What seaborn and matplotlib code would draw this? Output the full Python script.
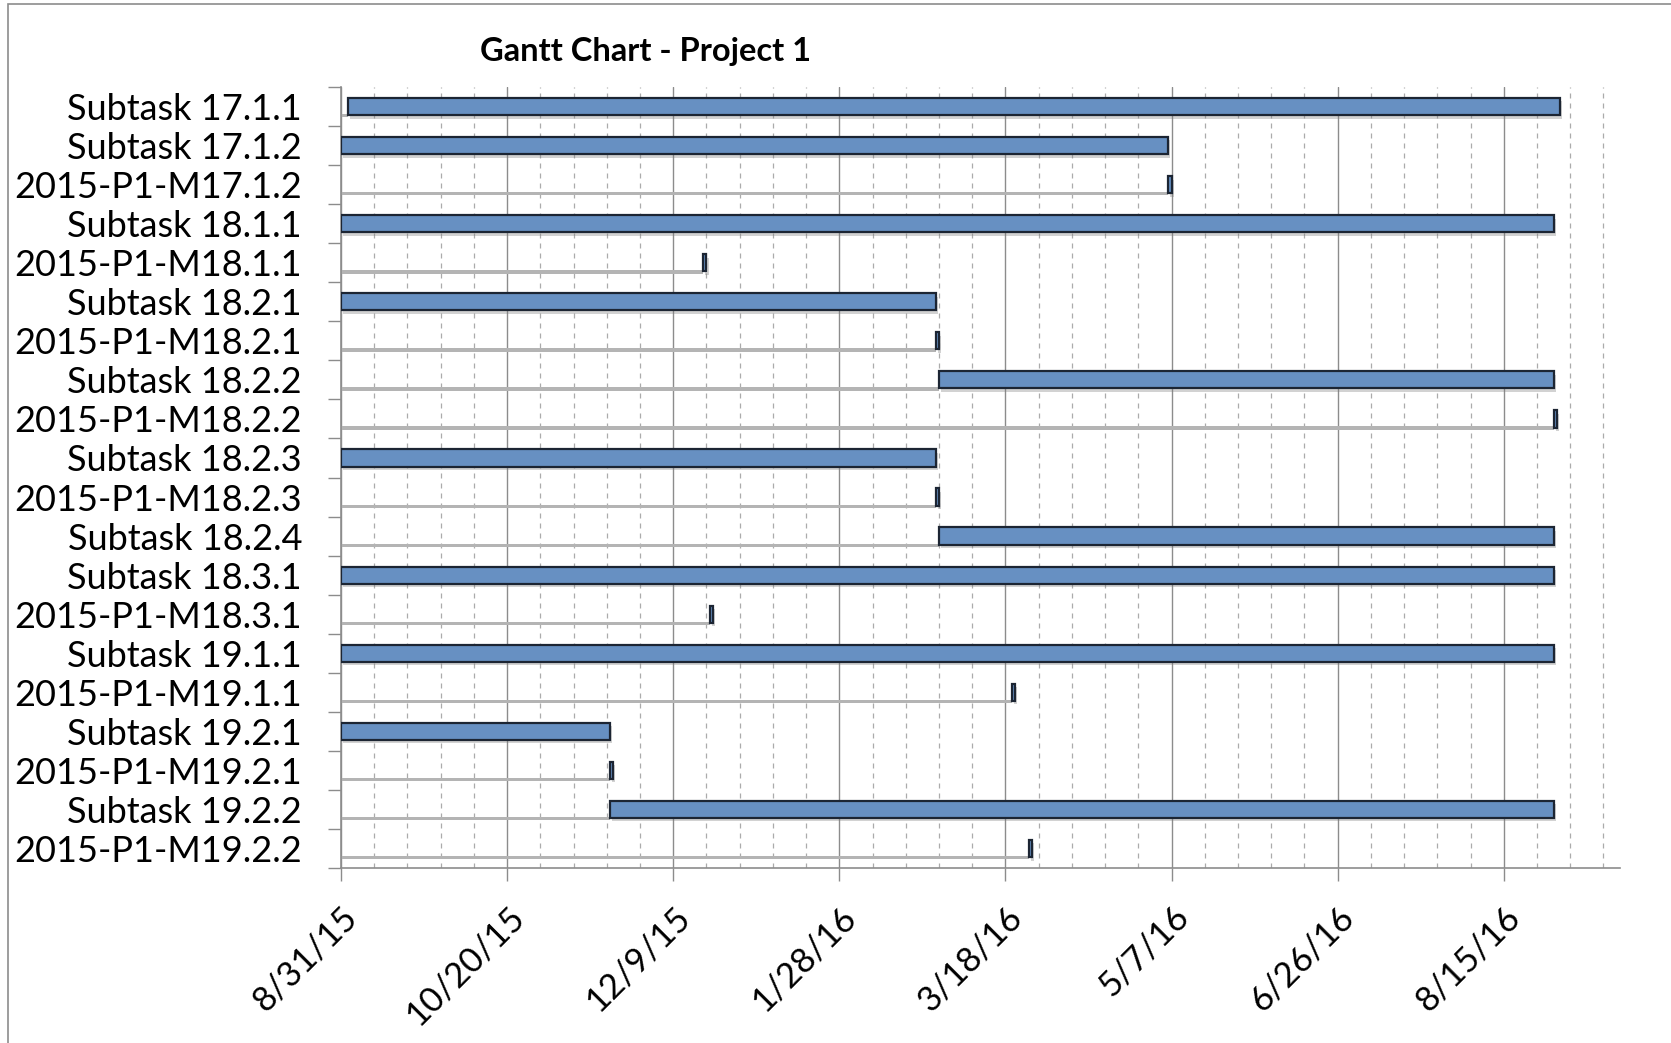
import numpy as np
import pandas as pd
import matplotlib
matplotlib.use("Agg")
import matplotlib.pyplot as plt
import matplotlib.dates as mdates
import matplotlib.patheffects as pe
from matplotlib.ticker import FixedLocator, FuncFormatter
from matplotlib.patches import Rectangle
import seaborn as sns

# ---------------- data ----------------
tasks = [
    "Subtask 17.1.1", "Subtask 17.1.2", "2015-P1-M17.1.2", "Subtask 18.1.1",
    "2015-P1-M18.1.1", "Subtask 18.2.1", "2015-P1-M18.2.1", "Subtask 18.2.2",
    "2015-P1-M18.2.2", "Subtask 18.2.3", "2015-P1-M18.2.3", "Subtask 18.2.4",
    "Subtask 18.3.1", "2015-P1-M18.3.1", "Subtask 19.1.1", "2015-P1-M19.1.1",
    "Subtask 19.2.1", "2015-P1-M19.2.1", "Subtask 19.2.2", "2015-P1-M19.2.2",
]
start_dates = [
    "2015-09-02", "2015-08-31", "2016-05-06", "2015-08-31",
    "2015-12-18", "2015-08-31", "2016-02-26", "2016-02-27",
    "2016-08-30", "2015-08-31", "2016-02-26", "2016-02-27",
    "2015-08-31", "2015-12-20", "2015-08-31", "2016-03-20",
    "2015-08-31", "2015-11-20", "2015-11-20", "2016-03-25",
]
end_dates = [
    "2016-09-01", "2016-05-06", "2016-05-07", "2016-08-30",
    "2015-12-19", "2016-02-26", "2016-02-27", "2016-08-30",
    "2016-08-31", "2016-02-26", "2016-02-27", "2016-08-30",
    "2016-08-30", "2015-12-21", "2016-08-30", "2016-03-21",
    "2015-11-20", "2015-11-21", "2016-08-30", "2016-03-26",
]
axis_start = "2015-08-31"
axis_days = 385
major_step = 50
minor_step = 10
title = "Gantt Chart - Project 1"

# ---------------- prep ----------------
start_num = mdates.date2num(pd.to_datetime(start_dates))
end_num = mdates.date2num(pd.to_datetime(end_dates))
x0 = mdates.date2num(pd.Timestamp(axis_start))
df = pd.DataFrame({"task": tasks, "start": start_num, "dur": end_num - start_num})

sns.set_theme(style="white")
plt.rcParams["font.family"] = ["Lato", "DejaVu Sans"]

W, H = 1671, 1043
fig = plt.figure(figsize=(W / 100, H / 100), dpi=100)
ax = fig.add_axes([341 / W, 1 - 868 / H, (1620 - 341) / W, (868 - 87) / H])

bar_color = "#6790C2"
edge_color = "#1c2533"
shadow_color = "#b4b4b4"

# shadow lines of the hidden "start" segment
ys = np.arange(len(tasks))
shadow_len = df["start"] - x0
shadow_bars = ax.barh(ys + 0.235, shadow_len, left=x0, height=0.085, color=shadow_color,
                      edgecolor="none", zorder=2)

sns.barplot(data=df, x="dur", y="task", left=df["start"], orient="h",
            color=bar_color, saturation=1, width=0.44, edgecolor=edge_color,
            linewidth=1.6, ax=ax, zorder=3)
shadow_set = set(id(p) for p in shadow_bars.patches)
for p in ax.patches:
    if id(p) not in shadow_set:
        p.set_path_effects([pe.SimplePatchShadow(offset=(1.5, -2.5), shadow_rgbFace="#808080", alpha=0.35),
                            pe.Normal()])

# axes limits & ticks
ax.set_xlim(x0, x0 + axis_days)
ax.set_ylim(len(tasks) - 0.5, -0.5)
ax.xaxis.set_major_locator(FixedLocator(x0 + np.arange(0, axis_days + 1, major_step)))
ax.xaxis.set_minor_locator(FixedLocator(x0 + np.arange(0, axis_days + 1, minor_step)))


def fmt_date(v, pos):
    d = mdates.num2date(v)
    return f"{d.month}/{d.day}/{d.year % 100}"


ax.xaxis.set_major_formatter(FuncFormatter(fmt_date))
ax.yaxis.set_minor_locator(FixedLocator(np.arange(-0.5, len(tasks), 1.0)))

ax.grid(True, axis="x", which="major", color="#8c8c8c", linewidth=1.0, linestyle="-", zorder=0)
ax.grid(True, axis="x", which="minor", color="#ababab", linewidth=0.9, linestyle=(0, (4, 4)), zorder=0)
ax.grid(False, axis="y")
ax.set_axisbelow(True)

for s in ["top", "right"]:
    ax.spines[s].set_visible(False)
for s in ["left", "bottom"]:
    ax.spines[s].set_color("#8c8c8c")
    ax.spines[s].set_linewidth(1.2)

ax.tick_params(axis="y", which="major", length=0, pad=28, labelsize=26, labelcolor="#000000")
ax.tick_params(axis="y", which="minor", length=9.5, width=1.0, color="#8c8c8c", left=True)
ax.tick_params(axis="x", which="major", length=9.5, width=1.0, color="#8c8c8c", bottom=True,
               labelsize=25, pad=14, labelcolor="#000000")
ax.tick_params(axis="x", which="minor", length=0)
for lab in ax.get_xticklabels():
    lab.set_rotation(45)
    lab.set_ha("right")
    lab.set_va("top")
    lab.set_rotation_mode("anchor")

ax.set_xlabel("")
ax.set_ylabel("")

fig.text(645 / W, 1 - 51 / H, title, ha="center", va="center", fontsize=23.5,
         fontweight="bold", color="#000000")

fig.add_artist(Rectangle((8 / W, -0.1), 1.2, 1.1 - 4 / H, transform=fig.transFigure,
                         fill=False, edgecolor="#8c8c8c", linewidth=1.2))

fig.savefig("out.png", dpi=100, facecolor="white")
